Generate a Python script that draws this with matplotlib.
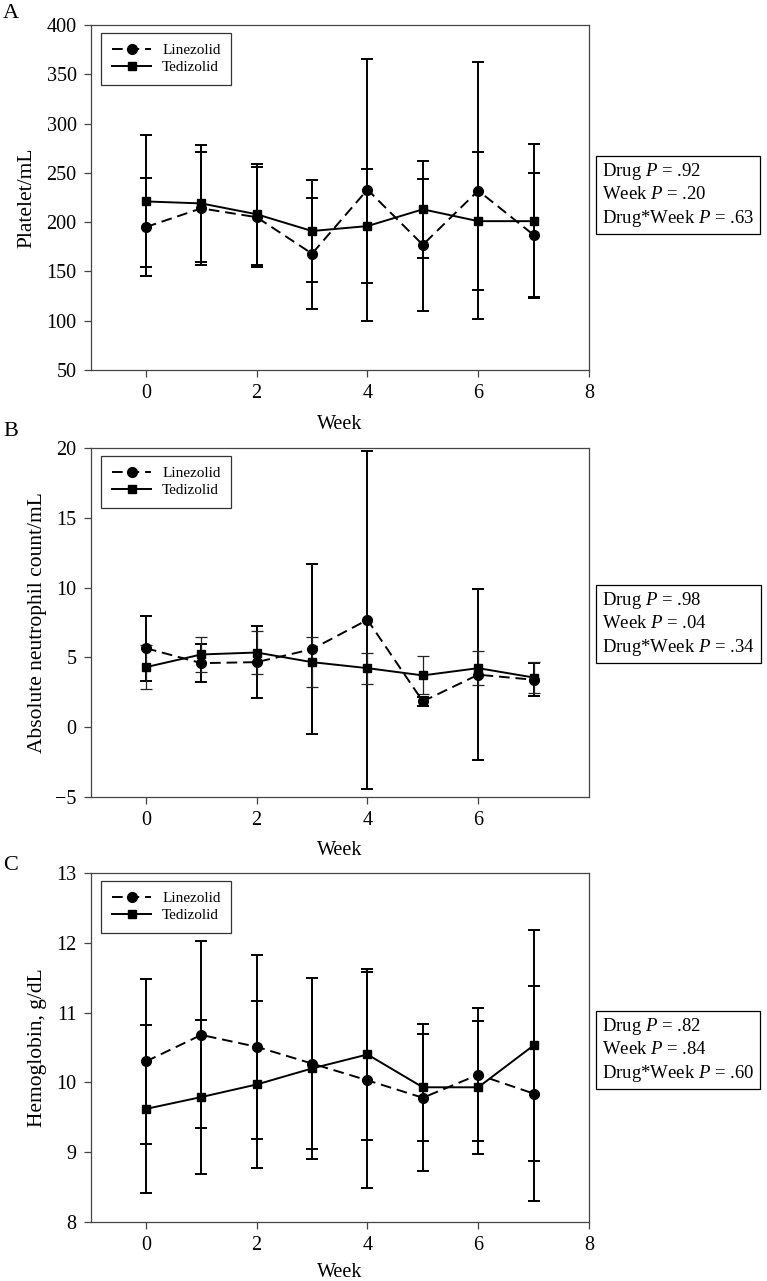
import matplotlib
matplotlib.use("Agg")
import matplotlib.pyplot as plt

# === Data (mean +/- SD) ===
weeks = [0, 1, 2, 3, 4, 5, 6, 7]

plt_lin = [195, 214, 205, 168, 233, 177, 232, 187]
plt_lin_sd = [50, 57, 51, 56, 133, 67, 130, 63]
plt_ted = [221, 219, 208, 191, 196, 213, 201, 201]
plt_ted_sd = [67, 59, 51, 52, 58, 49, 70, 78]

anc_lin = [5.66, 4.59, 4.66, 5.59, 7.69, 1.85, 3.76, 3.40]
anc_lin_sd = [2.32, 1.35, 2.60, 6.10, 12.10, 0.32, 6.13, 1.20]
anc_ted = [4.30, 5.21, 5.35, 4.66, 4.23, 3.71, 4.23, 3.56]
anc_ted_sd = [1.57, 1.26, 1.55, 1.80, 1.12, 1.36, 1.23, 1.10]

hgb_lin = [10.30, 10.68, 10.51, 10.27, 10.03, 9.78, 10.11, 9.84]
hgb_lin_sd = [1.18, 1.34, 1.32, 1.23, 1.55, 1.05, 0.95, 1.54]
hgb_ted = [9.62, 9.79, 9.97, 10.20, 10.40, 9.93, 9.93, 10.53]
hgb_ted_sd = [1.20, 1.10, 1.20, 1.30, 1.22, 0.77, 0.95, 1.65]

pvals_a = [".92", ".20", ".63"]
pvals_b = [".98", ".04", ".34"]
pvals_c = [".82", ".84", ".60"]

plt.rcParams["font.family"] = ["Liberation Serif", "DejaVu Serif"]
plt.rcParams["mathtext.fontset"] = "custom"
plt.rcParams["mathtext.rm"] = "Liberation Serif"
plt.rcParams["mathtext.it"] = "Liberation Serif:italic"

W, H = 767, 1281
fig = plt.figure(figsize=(W / 100, H / 100), dpi=100)

LW = 1.4
DASH = (0, (5.5, 3))


def make_axes(top, bottom, left=90.5, right=589):
    return fig.add_axes([left / W, 1 - bottom / H, (right - left) / W, (bottom - top) / H])


def draw_panel(ax, lin, lin_sd, ted, ted_sd, ylim, yticks, xticks, ylabel, ylab_x,
               thin_ted=False, xpad=7):
    ax.errorbar(weeks, lin, yerr=lin_sd, fmt="none", ecolor="black", elinewidth=LW,
                capsize=4.5, capthick=LW, zorder=2)
    ted_lw = 0.9 if thin_ted else LW
    ax.errorbar(weeks, ted, yerr=ted_sd, fmt="none", ecolor="#222222" if thin_ted else "black",
                elinewidth=ted_lw, capsize=4.5, capthick=ted_lw, zorder=2)
    h1, = ax.plot(weeks, lin, linestyle=DASH, color="black", lw=LW, marker="o",
                  markersize=7, zorder=3, label="Linezolid")
    h2, = ax.plot(weeks, ted, linestyle="-", color="black", lw=LW, marker="s",
                  markersize=6, zorder=3, label="Tedizolid")
    ax.set_xlim(-1, 8)
    ax.set_ylim(*ylim)
    ax.set_xticks(xticks)
    ax.set_yticks(yticks)
    for s in ["left", "bottom", "right", "top"]:
        ax.spines[s].set_color("#444444")
        ax.spines[s].set_linewidth(0.9)
    ax.tick_params(direction="out", length=5, width=0.9, color="#444444",
                   labelsize=14.5, pad=5)
    ax.set_xlabel("Week", fontsize=14.5, labelpad=xpad)
    ax.set_ylabel(ylabel, fontsize=15.5)
    ax.yaxis.set_label_coords(ylab_x, 0.5)
    leg = ax.legend(handles=[h1, h2], loc="upper left", bbox_to_anchor=(0.021, 0.977),
                    borderaxespad=0, fontsize=11, frameon=True, fancybox=False,
                    edgecolor="black", handlelength=2.6, borderpad=0.7, labelspacing=0.2,
                    handletextpad=0.7)
    leg.get_frame().set_linewidth(0.9)


def pbox(yc, vals):
    txt = (f"Drug $P$ = {vals[0]}\n"
           f"Week $P$ = {vals[1]}\n"
           f"Drug*Week $P$ = {vals[2]}")
    fig.text(602 / W, 1 - yc / H, txt, fontsize=13.5, ha="left", va="center", linespacing=1.3,
             bbox=dict(boxstyle="square,pad=0.3", fc="white", ec="black", lw=0.9))


# Panel A
axA = make_axes(25, 370)
draw_panel(axA, plt_lin, plt_lin_sd, plt_ted, plt_ted_sd, (50, 400),
           range(50, 401, 50), [0, 2, 4, 6, 8], "Platelet/mL", -0.108, xpad=9)
pbox(195, pvals_a)

# Panel B
axB = make_axes(448, 797)
draw_panel(axB, anc_lin, anc_lin_sd, anc_ted, anc_ted_sd, (-5, 20),
           range(-5, 21, 5), [0, 2, 4, 6], "Absolute neutrophil count/mL", -0.088,
           thin_ted=True, xpad=8)
pbox(624, pvals_b)

# Panel C
axC = make_axes(873, 1222)
draw_panel(axC, hgb_lin, hgb_lin_sd, hgb_ted, hgb_ted_sd, (8, 13),
           range(8, 14), [0, 2, 4, 6, 8], "Hemoglobin, g/dL", -0.088, xpad=6)
pbox(1050, pvals_c)

# Panel letters
for lab, y in [("A", 14), ("B", 432), ("C", 866)]:
    fig.text(3 / W, 1 - y / H, lab, fontsize=16, ha="left", va="center")

fig.savefig("out.png", dpi=100, facecolor="white")
